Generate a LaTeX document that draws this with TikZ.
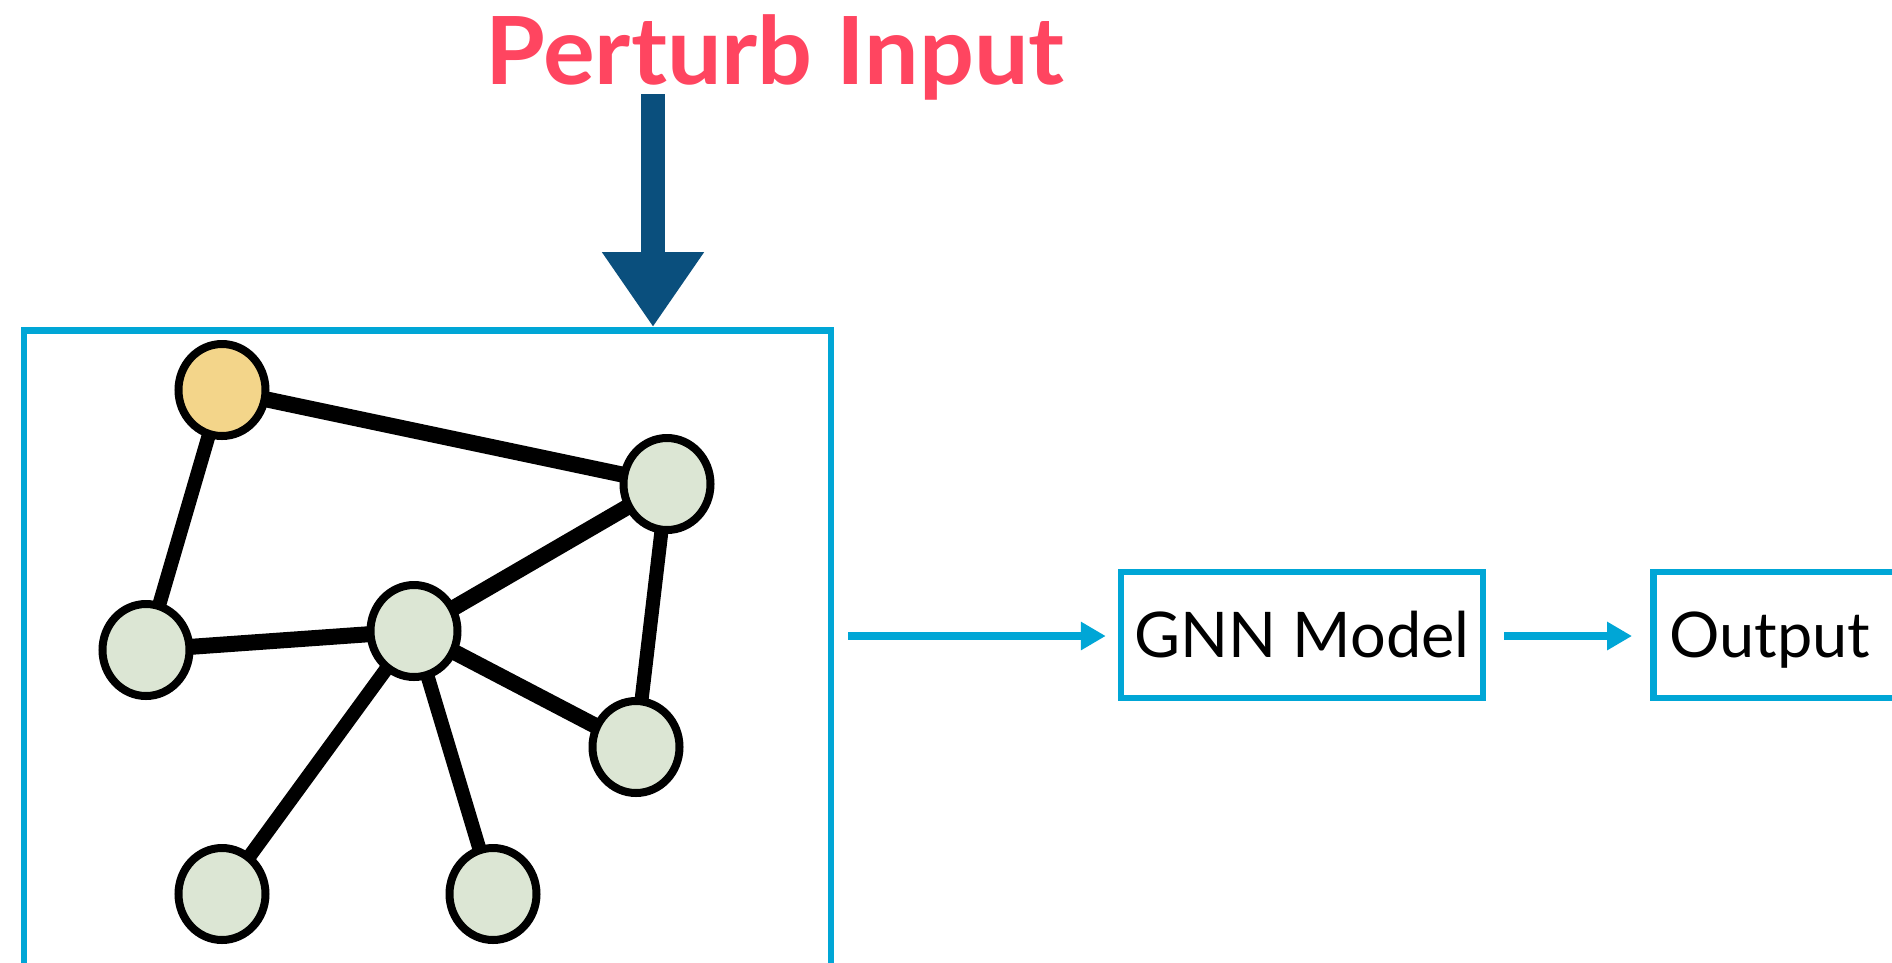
\documentclass[tikz,border=0pt]{standalone}
\usepackage{fontspec}
\setmainfont{Lato}
\newfontfamily\titlefont[FakeStretch=1.03]{Lato}
\usetikzlibrary{shapes.geometric,arrows.meta,backgrounds}
\definecolor{boxblue}{RGB}{0,166,214}
\definecolor{darkarrow}{RGB}{10,79,125}
\definecolor{titlered}{RGB}{255,69,96}
\definecolor{nodeyellow}{RGB}{243,213,138}
\definecolor{nodegreen}{RGB}{220,230,212}
\begin{document}
\begin{tikzpicture}[x=1pt,y=-1pt,
 gnode/.style={ellipse, draw=black, line width=8pt, fill=nodegreen, minimum width=87pt, minimum height=92pt, inner sep=0pt},
 ynode/.style={gnode, fill=nodeyellow},
 edgethick/.style={line width=16pt},
 edgethin/.style={line width=14pt},
 bluebox/.style={draw=boxblue, line width=6.5pt, minimum height=126pt, inner sep=0pt, font=\fontsize{63}{70}\selectfont, text height=45pt, text depth=0pt},
 flow/.style={draw=boxblue, line width=8.5pt, -{Triangle[length=25pt,width=27pt]}},
 titlestyle/.style={text=titlered, font=\fontsize{94}{100}\selectfont\titlefont\bfseries, inner sep=0pt},
 perturb/.style={draw=darkarrow, fill=darkarrow, line width=24pt, -{Triangle[length=75pt,width=97pt]}},
]
\useasboundingbox (0,0) rectangle (1892,962);
\clip (0,0) rectangle (1892,962);

% title and perturb arrow
\node[titlestyle, anchor=base] (title) at (775,84) {Perturb Input};
\node[draw=boxblue, line width=6.5pt, minimum width=807pt, minimum height=720pt, anchor=north west, inner sep=0pt] (graphbox) at (20.5,327) {};
\coordinate (pstart) at (653,94);
\draw[perturb] (pstart) -- (graphbox.north -| pstart);

% graph nodes
\node[ynode] (Y) at (222,390) {};
\node[gnode] (TR) at (667,484) {};
\node[gnode] (L) at (146,650) {};
\node[gnode] (C) at (414,631) {};
\node[gnode] (RL) at (636,747) {};
\node[gnode] (BL) at (222,894) {};
\node[gnode] (BM) at (493,894) {};

\begin{scope}[on background layer]
\draw[edgethick] (Y.center) -- (TR.center);
\draw[edgethin] (Y.center) -- (L.center);
\draw[edgethick] (L.center) -- (C.center);
\draw[edgethick] (C.center) -- (TR.center);
\draw[edgethin] (TR.center) -- (RL.center);
\draw[edgethick] (C.center) -- (RL.center);
\draw[edgethin] (C.center) -- (BL.center);
\draw[edgethin] (C.center) -- (BM.center);
\end{scope}

% pipeline
\node[bluebox, minimum width=362pt] (gnn) at (1302,635) {GNN Model};
\node[bluebox, minimum width=330pt, anchor=west, align=left, text width=300pt, inner xsep=16pt] (out) at (1650,635) {Output};
\coordinate (a1) at (848,636);
\coordinate (a2) at (1504,636);
\draw[flow, shorten >=12pt] (a1) -- (a1 -| gnn.west);
\draw[flow, shorten >=18pt] (a2) -- (a2 -| out.west);
\end{tikzpicture}
\end{document}
